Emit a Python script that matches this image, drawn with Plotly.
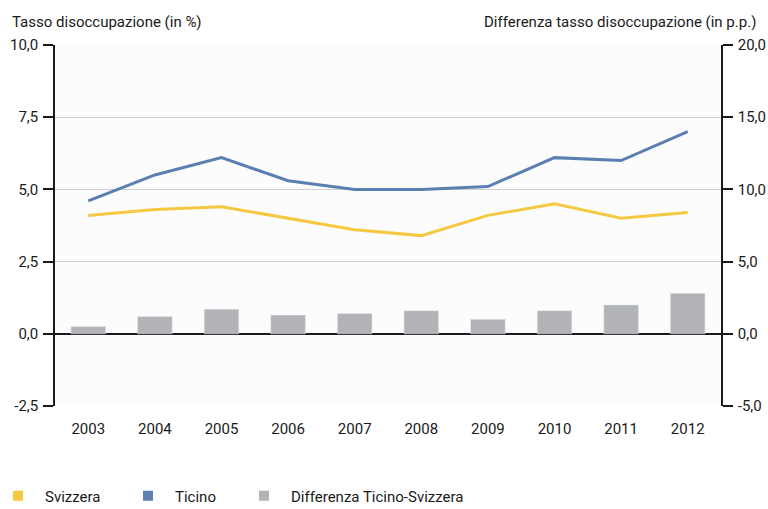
import plotly.graph_objects as go

years = ["2003", "2004", "2005", "2006", "2007", "2008", "2009", "2010", "2011", "2012"]
svizzera = [4.1, 4.3, 4.4, 4.0, 3.6, 3.4, 4.1, 4.5, 4.0, 4.2]
ticino = [4.6, 5.5, 6.1, 5.3, 5.0, 5.0, 5.1, 6.1, 6.0, 7.0]
differenza = [0.5, 1.2, 1.7, 1.3, 1.4, 1.6, 1.0, 1.6, 2.0, 2.8]

y1_ticks = [-2.5, 0, 2.5, 5, 7.5, 10]
y1_labels = ["-2,5", "0,0", "2,5", "5,0", "7,5", "10,0"]
y2_ticks = [-5, 0, 5, 10, 15, 20]
y2_labels = ["-5,0", "0,0", "5,0", "10,0", "15,0", "20,0"]

c_sv = "#F5C842"
c_ti = "#5B7FB0"
c_di = "#B2B3B7"
FONT = "Roboto, Liberation Sans, sans-serif"
FS = 15

fig = go.Figure()
fig.add_trace(go.Bar(x=years, y=differenza, yaxis="y2", marker_color=c_di,
                     width=0.52, showlegend=False, name="Differenza Ticino-Svizzera"))
fig.add_trace(go.Scatter(x=years, y=svizzera, mode="lines", line=dict(color=c_sv, width=3),
                         showlegend=False, name="Svizzera"))
fig.add_trace(go.Scatter(x=years, y=ticino, mode="lines", line=dict(color=c_ti, width=3),
                         showlegend=False, name="Ticino"))

# legend entries with square symbols, each in its own legend box
legend_items = [("Svizzera", c_sv, "legend"), ("Ticino", c_ti, "legend2"),
                ("Differenza Ticino-Svizzera", c_di, "legend3")]
for name, col, lg in legend_items:
    fig.add_trace(go.Scatter(x=[None], y=[None], mode="markers",
                             marker=dict(symbol="square", size=10, color=col),
                             name=name, showlegend=True, legend=lg))

W = 666.0
H = 361.0
def px_x(px):
    return (px - 55) / W

leg_common = dict(orientation="h", xanchor="left", yanchor="middle",
                  y=(406 - 496) / H, itemwidth=44, font=dict(size=FS),
                  bgcolor="rgba(0,0,0,0)", borderwidth=0)

fig.update_layout(
    width=768, height=509,
    margin=dict(l=55, r=47, t=45, b=103, autoexpand=False),
    paper_bgcolor="white", plot_bgcolor="#fcfcfc",
    font=dict(family=FONT, size=FS, color="#1a1a1a"),
    xaxis=dict(range=[-0.5, 9.5], showgrid=False, ticks="", ticklabelstandoff=12,
               showline=False, zeroline=False, automargin=False),
    yaxis=dict(range=[-2.5, 10], tickvals=y1_ticks, ticktext=y1_labels,
               showgrid=True, gridcolor="#cfcfcf", gridwidth=1,
               zeroline=True, zerolinecolor="#1a1a1a", zerolinewidth=1.5,
               showline=True, linecolor="#1a1a1a", linewidth=1.5,
               ticks="outside", ticklen=10, tickcolor="#1a1a1a", tickwidth=1.5,
               ticklabelstandoff=2, automargin=False),
    yaxis2=dict(range=[-5, 20], tickvals=y2_ticks, ticktext=y2_labels, overlaying="y",
                side="right", showgrid=False, zeroline=False,
                showline=True, linecolor="#1a1a1a", linewidth=1.5,
                ticks="outside", ticklen=10, tickcolor="#1a1a1a", tickwidth=1.5,
                ticklabelstandoff=2, automargin=False),
    legend=dict(x=px_x(-9), **leg_common),
    legend2=dict(x=px_x(121), **leg_common),
    legend3=dict(x=px_x(237), **leg_common),
)

fig.add_annotation(text="Tasso disoccupazione (in %)", xref="paper", yref="paper",
                   x=px_x(10), y=1.0, yshift=23, xanchor="left", yanchor="middle",
                   showarrow=False, font=dict(size=FS))
fig.add_annotation(text="Differenza tasso disoccupazione (in p.p.)", xref="paper", yref="paper",
                   x=px_x(758), y=1.0, yshift=23, xanchor="right", yanchor="middle",
                   showarrow=False, font=dict(size=FS))

fig.write_html("out.html", config={"displayModeBar": False},
               post_script="document.body.style.margin='0';")
